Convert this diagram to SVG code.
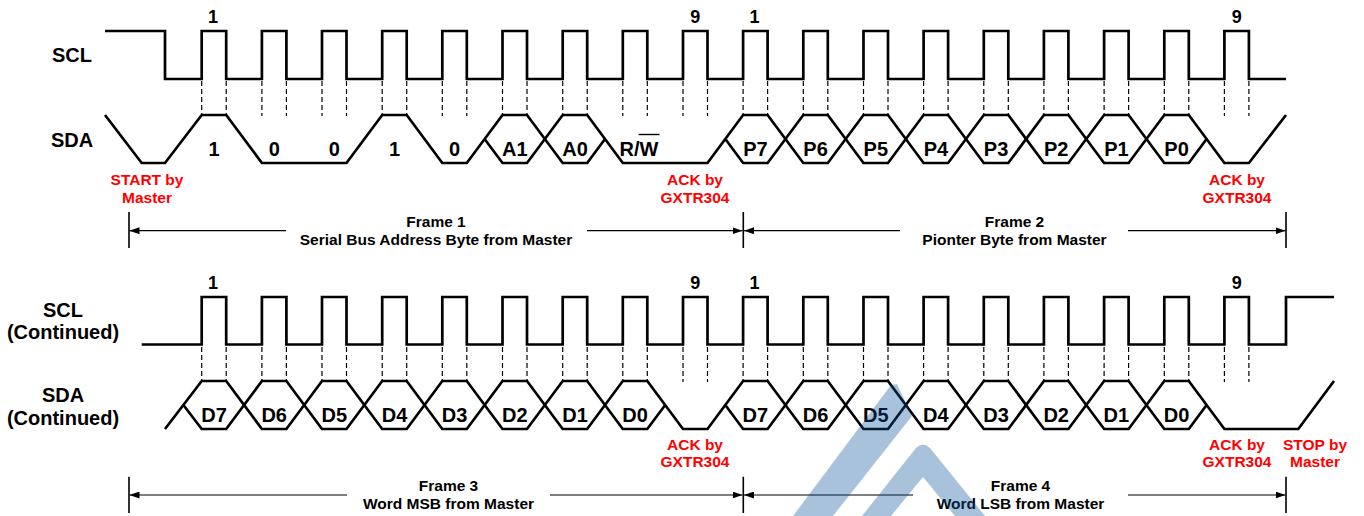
<svg xmlns="http://www.w3.org/2000/svg" xmlns:xlink="http://www.w3.org/1999/xlink" width="1364" height="516" viewBox="0 0 1364 516">
<style>
  .wave { fill: none; stroke: #000; stroke-width: 2.7; stroke-linejoin: miter; }
  .dash { fill: none; stroke: #000; stroke-width: 1.2; stroke-dasharray: 5 3; }
  .frame { fill: none; stroke: #000; stroke-width: 1.2; }
  .tick { fill: none; stroke: #000; stroke-width: 1.6; }
  text { font-family: "Liberation Sans", Arial, sans-serif; font-weight: bold; text-anchor: middle; fill: #000; }
  .lbl { font-size: 20px; }
  .hex { font-size: 20px; }
  .num { font-size: 18px; }
  .red { font-size: 15.5px; fill: #ff0000; }
  .frm { font-size: 15.5px; }
  .wm { fill: #0a4f9c; opacity: 0.35; }
</style>
<defs>
  <marker id="arr" viewBox="0 0 10 7" refX="10" refY="3.5" markerWidth="10" markerHeight="7" markerUnits="userSpaceOnUse" orient="auto">
    <path d="M0,0 L10,3.5 L0,7 z" fill="#000"/>
  </marker>
  <path id="dashes" class="dash" d="M201.7,0V35M226.2,0V35M261.9,0V35M286.4,0V35M322,0V35M346.5,0V35M382.2,0V35M406.7,0V35M442.3,0V35M466.8,0V35M502.5,0V35M527,0V35M562.7,0V35M587.2,0V35M622.8,0V35M647.3,0V35M683,0V35M707.5,0V35M743.1,0V35M767.6,0V35M803.3,0V35M827.8,0V35M863.5,0V35M888,0V35M923.6,0V35M948.1,0V35M983.8,0V35M1008.3,0V35M1043.9,0V35M1068.4,0V35M1104.1,0V35M1128.6,0V35M1164.3,0V35M1188.8,0V35M1224.4,0V35M1248.9,0V35"/>
</defs>

<g id="labels-left">
  <text class="lbl" x="72" y="61.7">SCL</text>
  <text class="lbl" x="72" y="147">SDA</text>
  <text class="lbl" x="63" y="316.5">SCL</text>
  <text class="lbl" x="63" y="339">(Continued)</text>
  <text class="lbl" x="63" y="401.5">SDA</text>
  <text class="lbl" x="63" y="424.5">(Continued)</text>
</g>

<g id="top-timing">
  <g id="scl-top">
    <path class="wave" d="M105,31H165V79H201.7V31H226.2V79H261.9V31H286.4V79H322V31H346.5V79H382.2V31H406.7V79H442.3V31H466.8V79H502.5V31H527V79H562.7V31H587.2V79H622.8V31H647.3V79H683V31H707.5V79H743.1V31H767.6V79H803.3V31H827.8V79H863.5V31H888V79H923.6V31H948.1V79H983.8V31H1008.3V79H1043.9V31H1068.4V79H1104.1V31H1128.6V79H1164.3V31H1188.8V79H1224.4V31H1248.9V79H1286"/>
    <text class="num" x="213" y="23">1</text>
    <text class="num" x="695.3" y="23">9</text>
    <text class="num" x="754.5" y="23">1</text>
    <text class="num" x="1236.7" y="23">9</text>
  </g>
  <use xlink:href="#dashes" href="#dashes" y="81"/>
  <g id="sda-top">
    <path class="wave" d="M105,115L141.7,163H165L201.7,115H226.2L261.9,163H346.5L382.2,115H406.7L442.3,163H466.8L502.5,115H527L562.7,163H587.2L605,139"/>
    <path class="wave" d="M484.6,139L502.5,163H527L562.7,115H587.2L622.8,163H707.5L743.1,115H767.6L803.3,163H827.8L863.5,115H888L923.6,163H948.1L983.8,115H1008.3L1043.9,163H1068.4L1104.1,115H1128.6L1164.3,163H1188.8L1206.6,139"/>
    <path class="wave" d="M725.3,139L743.1,163H767.6L803.3,115H827.8L863.5,163H888L923.6,115H948.1L983.8,163H1008.3L1043.9,115H1068.4L1104.1,163H1128.6L1164.3,115H1188.8L1224.4,163H1248.9L1286,115"/>
    <text class="hex" x="214" y="156">1</text>
    <text class="hex" x="274.2" y="156">0</text>
    <text class="hex" x="334.3" y="156">0</text>
    <text class="hex" x="394.5" y="156">1</text>
    <text class="hex" x="454.6" y="156">0</text>
    <text class="hex" x="514.8" y="156">A1</text>
    <text class="hex" x="575" y="156">A0</text>
    <text class="hex" x="639" y="156">R/W</text>
    <line x1="638.5" y1="134.5" x2="659.5" y2="134.5" stroke="#000" stroke-width="1.4"/>
    <text class="hex" x="755.4" y="156">P7</text>
    <text class="hex" x="815.6" y="156">P6</text>
    <text class="hex" x="875.8" y="156">P5</text>
    <text class="hex" x="935.9" y="156">P4</text>
    <text class="hex" x="996.1" y="156">P3</text>
    <text class="hex" x="1056.2" y="156">P2</text>
    <text class="hex" x="1116.4" y="156">P1</text>
    <text class="hex" x="1176.6" y="156">P0</text>
  </g>
  <g id="notes-top">
    <text class="red" x="147" y="185">START by</text>
    <text class="red" x="147" y="202.5">Master</text>
    <text class="red" x="695" y="185">ACK by</text>
    <text class="red" x="695" y="202.5">GXTR304</text>
    <text class="red" x="1237" y="185">ACK by</text>
    <text class="red" x="1237" y="202.5">GXTR304</text>
  </g>
</g>

<g id="bottom-timing">
  <g id="scl-bottom">
    <path class="wave" d="M141.7,344.5H201.7V297H226.2V344.5H261.9V297H286.4V344.5H322V297H346.5V344.5H382.2V297H406.7V344.5H442.3V297H466.8V344.5H502.5V297H527V344.5H562.7V297H587.2V344.5H622.8V297H647.3V344.5H683V297H707.5V344.5H743.1V297H767.6V344.5H803.3V297H827.8V344.5H863.5V297H888V344.5H923.6V297H948.1V344.5H983.8V297H1008.3V344.5H1043.9V297H1068.4V344.5H1104.1V297H1128.6V344.5H1164.3V297H1188.8V344.5H1224.4V297H1248.9V344.5H1286V297H1334"/>
    <text class="num" x="213" y="288.5">1</text>
    <text class="num" x="695.3" y="288.5">9</text>
    <text class="num" x="754.5" y="288.5">1</text>
    <text class="num" x="1236.7" y="288.5">9</text>
  </g>
  <use xlink:href="#dashes" href="#dashes" y="347"/>
  <g id="sda-bottom">
    <path class="wave" d="M165,429L201.7,381H226.2L261.9,429H286.4L322,381H346.5L382.2,429H406.7L442.3,381H466.8L502.5,429H527L562.7,381H587.2L622.8,429H647.3L665.2,405"/>
    <path class="wave" d="M183.4,405L201.7,429H226.2L261.9,381H286.4L322,429H346.5L382.2,381H406.7L442.3,429H466.8L502.5,381H527L562.7,429H587.2L622.8,381H647.3L683,429H707.5L743.1,381H767.6L803.3,429H827.8L863.5,381H888L923.6,429H948.1L983.8,381H1008.3L1043.9,429H1068.4L1104.1,381H1128.6L1164.3,429H1188.8L1206.6,405"/>
    <path class="wave" d="M725.3,405L743.1,429H767.6L803.3,381H827.8L863.5,429H888L923.6,381H948.1L983.8,429H1008.3L1043.9,381H1068.4L1104.1,429H1128.6L1164.3,381H1188.8L1224.4,429H1298.3L1334,381"/>
    <text class="hex" x="214" y="421.5">D7</text>
    <text class="hex" x="274.2" y="421.5">D6</text>
    <text class="hex" x="334.3" y="421.5">D5</text>
    <text class="hex" x="394.5" y="421.5">D4</text>
    <text class="hex" x="454.6" y="421.5">D3</text>
    <text class="hex" x="514.8" y="421.5">D2</text>
    <text class="hex" x="575" y="421.5">D1</text>
    <text class="hex" x="635.1" y="421.5">D0</text>
    <text class="hex" x="755.4" y="421.5">D7</text>
    <text class="hex" x="815.6" y="421.5">D6</text>
    <text class="hex" x="875.8" y="421.5">D5</text>
    <text class="hex" x="935.9" y="421.5">D4</text>
    <text class="hex" x="996.1" y="421.5">D3</text>
    <text class="hex" x="1056.2" y="421.5">D2</text>
    <text class="hex" x="1116.4" y="421.5">D1</text>
    <text class="hex" x="1176.6" y="421.5">D0</text>
  </g>
  <g id="notes-bottom">
    <text class="red" x="695" y="449.5">ACK by</text>
    <text class="red" x="695" y="467">GXTR304</text>
    <text class="red" x="1237" y="449.5">ACK by</text>
    <text class="red" x="1237" y="467">GXTR304</text>
    <text class="red" x="1315" y="449.5">STOP by</text>
    <text class="red" x="1315" y="467">Master</text>
  </g>
</g>

<g id="connectors">
  <path class="tick" d="M129,212V248M743.3,212V248M1286,212V248"/>
  <path class="frame" d="M286,230.7H129.5" marker-end="url(#arr)"/>
  <path class="frame" d="M587,230.7H742.5" marker-end="url(#arr)"/>
  <path class="frame" d="M900,230.7H744" marker-end="url(#arr)"/>
  <path class="frame" d="M1128,230.7H1285.5" marker-end="url(#arr)"/>
  <path class="tick" d="M129,476.7V513M743.3,476.7V513M1286,476.7V513"/>
  <path class="frame" d="M347,495H129.5" marker-end="url(#arr)"/>
  <path class="frame" d="M550,495H742.5" marker-end="url(#arr)"/>
  <path class="frame" d="M913,495H744" marker-end="url(#arr)"/>
  <path class="frame" d="M1128,495H1285.5" marker-end="url(#arr)"/>
</g>

<g id="frame-labels">
  <text class="frm" x="436" y="227">Frame 1</text>
  <text class="frm" x="436" y="245">Serial Bus Address Byte from Master</text>
  <text class="frm" x="1014.5" y="227">Frame 2</text>
  <text class="frm" x="1014.5" y="245">Pionter Byte from Master</text>
  <text class="frm" x="448.5" y="491">Frame 3</text>
  <text class="frm" x="448.5" y="509">Word MSB from Master</text>
  <text class="frm" x="1020.5" y="491">Frame 4</text>
  <text class="frm" x="1020.5" y="509">Word LSB from Master</text>
</g>

<g id="watermark">
  <polygon class="wm" points="793,516 891,385 897,384 912,416 833,516"/>
  <path class="wm" d="M862,516 L916,448 Q923,441 930,448 L985,516 L955,516 L923,477 L891,516 Z"/>
</g>
</svg>
